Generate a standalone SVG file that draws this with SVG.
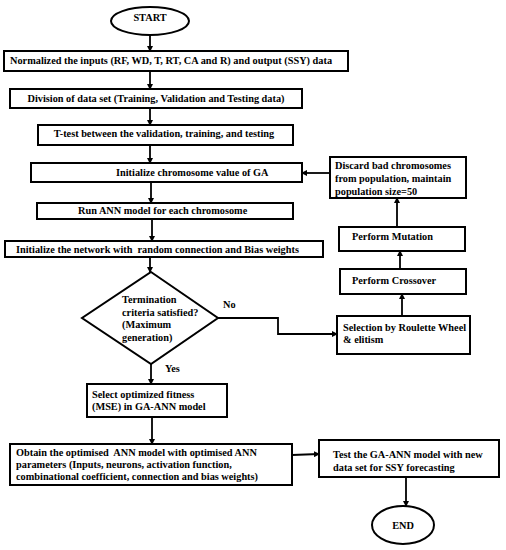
<svg xmlns="http://www.w3.org/2000/svg" width="506" height="550" viewBox="0 0 506 550">
<defs>
<marker id="ah" markerWidth="6" markerHeight="6" refX="5" refY="3" orient="auto" markerUnits="userSpaceOnUse">
<path d="M0,0 L6,3 L0,6 z" fill="#000"/>
</marker>
<style>
.b{fill:#fff;stroke:#000;stroke-width:2}
.t{font-family:"Liberation Serif","Times New Roman",serif;font-weight:bold;font-size:10.3px;fill:#000}
.c{fill:none;stroke:#000;stroke-width:1.8;marker-end:url(#ah)}
.m{text-anchor:middle}
</style>
</defs>
<rect width="506" height="550" fill="#fff"/>
<g id="connectors">
<path class="c" d="M150,35 V51"/>
<path class="c" d="M150,71 V89"/>
<path class="c" d="M150,108 V125"/>
<path class="c" d="M150,145 V163"/>
<path class="c" d="M151,182 V203"/>
<path class="c" d="M152,219 V241"/>
<path class="c" d="M150,257 V272"/>
<path class="c" d="M218,318 H278 V334 H337"/>
<path class="c" d="M402,316 V294"/>
<path class="c" d="M400,269 V251"/>
<path class="c" d="M397,227 V198"/>
<path class="c" d="M330,173 H302"/>
<path class="c" d="M151,364 V384"/>
<path class="c" d="M152,417 V444"/>
<path class="c" d="M292,455 L319,454"/>
<path class="c" d="M406,477 V506"/>
<text class="t" x="223" y="308">No</text>
<text class="t" x="165" y="372">Yes</text>
</g>
<g id="start"><ellipse class="b" cx="150" cy="21" rx="39" ry="14"/><text class="t m" x="150" y="21">START</text></g>
<g id="normalize"><rect class="b" x="4" y="51" width="344" height="20"/><text class="t" x="10" y="64">Normalized the inputs (RF, WD, T, RT, CA and R) and output (SSY) data</text></g>
<g id="division"><rect class="b" x="10" y="89" width="292" height="19"/><text class="t m" x="156" y="102">Division of data set (Training, Validation and Testing data)</text></g>
<g id="ttest"><rect class="b" x="38" y="125" width="255" height="20"/><text class="t m" x="164" y="137">T-test between the validation, training, and testing</text></g>
<g id="initchrom"><rect class="b" x="31" y="163" width="271" height="19"/><text class="t" x="116" y="176">Initialize chromosome value of GA</text></g>
<g id="runann"><rect class="b" x="37" y="203" width="256" height="16"/><text class="t" x="78" y="214">Run ANN model for each chromosome</text></g>
<g id="initnet"><rect class="b" x="5" y="241" width="318" height="16"/><text class="t" x="16" y="253" xml:space="preserve">Initialize the network with  random connection and Bias weights</text></g>
<g id="decision"><path class="b" d="M151,272 L218,318 L151,364 L82,318 Z"/>
<text class="t" x="122" y="303">Termination</text>
<text class="t" x="122" y="316">criteria satisfied?</text>
<text class="t" x="122" y="328">(Maximum</text>
<text class="t" x="122" y="341">generation)</text></g>
<g id="selection"><rect class="b" x="337" y="316" width="133" height="38"/><text class="t" x="343" y="331">Selection by Roulette Wheel</text><text class="t" x="343" y="343">&amp; elitism</text></g>
<g id="crossover"><rect class="b" x="340" y="269" width="126" height="25"/><text class="t" x="352" y="284">Perform Crossover</text></g>
<g id="mutation"><rect class="b" x="339" y="227" width="126" height="24"/><text class="t" x="352" y="240">Perform Mutation</text></g>
<g id="discard"><rect class="b" x="330" y="157" width="136" height="41"/><text class="t" x="335" y="169">Discard bad chromosomes</text><text class="t" x="335" y="182">from population, maintain</text><text class="t" x="335" y="195">population size=50</text></g>
<g id="select"><rect class="b" x="87" y="384" width="140" height="33"/><text class="t" x="92" y="398">Select optimized fitness</text><text class="t" x="92" y="410">(MSE) in GA-ANN model</text></g>
<g id="obtain"><rect class="b" x="10" y="444" width="282" height="41"/><text class="t" x="16" y="456" xml:space="preserve">Obtain the optimised  ANN model with optimised ANN</text><text class="t" x="16" y="468">parameters (Inputs, neurons, activation function,</text><text class="t" x="16" y="480">combinational coefficient, connection and bias weights)</text></g>
<g id="test"><rect class="b" x="319" y="440" width="180" height="37"/><text class="t" x="333" y="458">Test the GA-ANN model with new</text><text class="t" x="333" y="471">data set for SSY forecasting</text></g>
<g id="end"><ellipse class="b" cx="403" cy="525" rx="31" ry="19"/><text class="t m" x="403" y="529">END</text></g>
</svg>
